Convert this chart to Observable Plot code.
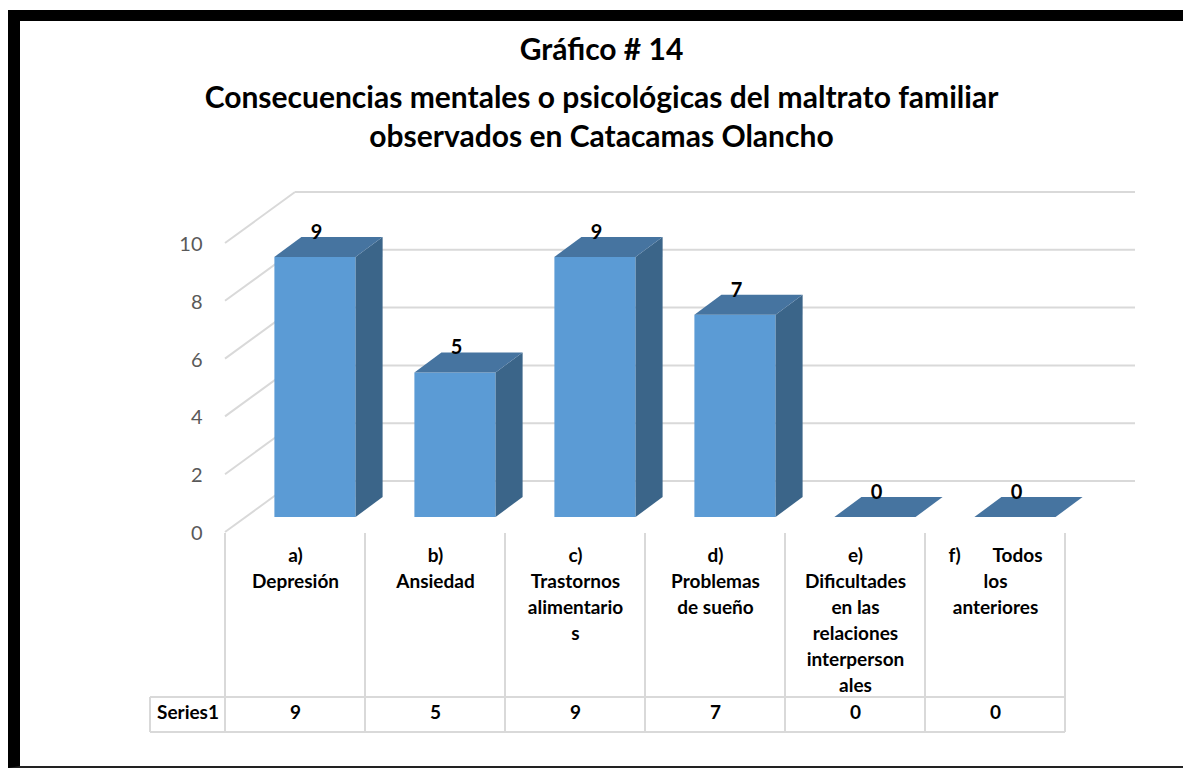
<!DOCTYPE html>
<html>
<head>
<meta charset="utf-8">
<script src="https://cdn.jsdelivr.net/npm/d3@7"></script>
<script src="https://cdn.jsdelivr.net/npm/@observablehq/plot@0.6"></script>
<style>
  html, body { margin: 0; padding: 0; background: #fff; }
  body { width: 1183px; height: 768px; overflow: hidden; position: relative; font-family: Lato, "Open Sans", sans-serif; }
  #frame { position: absolute; left: 8px; top: 10px; width: 1200px; height: 745px;
           border-left: 12px solid #000; border-top: 11px solid #000; border-bottom: 2px solid #222; }
  .tline { position: absolute; left: 20px; width: 1163px; text-align: center; font-weight: bold;
           font-size: 30px; line-height: 34px; color: #000; white-space: nowrap; }
  #chart { position: absolute; left: 0; top: 165px; }
  #chart svg text { white-space: pre; }
</style>
</head>
<body>
<div id="frame"></div>
<div class="tline" style="top:31px">Gráfico # 14</div>
<div class="tline" style="top:79px">Consecuencias mentales o psicológicas del maltrato familiar</div>
<div class="tline" style="top:118px">observados en Catacamas Olancho</div>
<div id="chart"></div>
<script>
// ---- data ----
const categories = [
  "a)\nDepresión",
  "b)\nAnsiedad",
  "c)\nTrastornos\nalimentario\ns",
  "d)\nProblemas\nde sueño",
  "e)\nDificultades\nen las\nrelaciones\ninterperson\nales",
  "f)       Todos\nlos\nanteriores"
];
const values = [9, 5, 9, 7, 0, 0];
const yTicks = [0, 2, 4, 6, 8, 10];
const seriesName = "Series1";

const data = categories.map((c, i) => ({category: c, value: values[i]}));

// ---- 3D geometry (styles) ----
const WALL = {dx: 70, dy: -51};    // depth of the floor / side wall
const FRONT = {dx: 20, dy: -15};   // offset of bar front face from the floor front edge
const DEPTH = {dx: 27, dy: -20};   // bar depth
const BAR_FRAC = 0.58;             // bar width as fraction of band
const GRID = "#d9d9d9";
const FRONT_FILL = "#5b9bd5", TOP_FILL = "#4674a0", SIDE_FILL = "#3b6589";

function bandInfo(x) {
  return typeof x.bandwidth === "function" ? x.bandwidth() : (x(categories[1]) - x(categories[0]));
}

// grid walls: side-wall diagonals and back-wall horizontal lines
function walls(index, scales) {
  const {x, y} = scales;
  const bw = bandInfo(x);
  const x0 = x(categories[0]);
  const x1 = x(categories[categories.length - 1]) + bw;
  const g = d3.create("svg:g").attr("stroke", GRID).attr("stroke-width", 2).attr("fill", "none");
  for (const t of yTicks) {
    const py = y(t);
    g.append("line").attr("x1", x0).attr("y1", py).attr("x2", x0 + WALL.dx).attr("y2", py + WALL.dy);
    g.append("line").attr("x1", x0 + WALL.dx).attr("y1", py + WALL.dy).attr("x2", x1 + WALL.dx).attr("y2", py + WALL.dy);
  }
  return g.node();
}

// data table lines
function tableLines(index, scales) {
  const {x, y} = scales;
  const bw = bandInfo(x);
  const y0 = y(0);
  const xs = categories.map(c => x(c)).concat([x(categories[categories.length - 1]) + bw]);
  const g = d3.create("svg:g").attr("stroke", GRID).attr("stroke-width", 2).attr("fill", "none");
  const rowTop = y0 + 165, rowBot = y0 + 200, leftX = xs[0] - 75;
  for (const px of xs) {
    g.append("line").attr("x1", px).attr("y1", y0 + 1).attr("x2", px).attr("y2", rowBot);
  }
  g.append("line").attr("x1", leftX).attr("y1", rowTop).attr("x2", xs[xs.length - 1]).attr("y2", rowTop);
  g.append("line").attr("x1", leftX).attr("y1", rowBot).attr("x2", xs[xs.length - 1]).attr("y2", rowBot);
  g.append("line").attr("x1", leftX).attr("y1", rowTop).attr("x2", leftX).attr("y2", rowBot);
  return g.node();
}

// 3D bars
function bars3d(index, scales) {
  const {x, y} = scales;
  const bw = bandInfo(x);
  const w = bw * BAR_FRAC;
  const g = d3.create("svg:g");
  for (const d of data) {
    const cx = x(d.category) + bw / 2 + FRONT.dx;
    const l = cx - w / 2, r = cx + w / 2;
    const yb = y(0) + FRONT.dy, yt = y(d.value) + FRONT.dy;
    if (yb - yt > 0) {
      g.append("rect").attr("x", l).attr("y", yt).attr("width", w).attr("height", yb - yt)
        .attr("fill", FRONT_FILL);
      g.append("path").attr("fill", SIDE_FILL)
        .attr("d", `M${r},${yt}L${r + DEPTH.dx},${yt + DEPTH.dy}L${r + DEPTH.dx},${yb + DEPTH.dy}L${r},${yb}Z`);
    }
    g.append("path").attr("fill", TOP_FILL)
      .attr("d", `M${l},${yt}L${l + DEPTH.dx},${yt + DEPTH.dy}L${r + DEPTH.dx},${yt + DEPTH.dy}L${r},${yt}Z`);
  }
  return g.node();
}

const chart = Plot.plot({
  width: 1183,
  height: 603,
  marginLeft: 225,
  marginRight: 118,
  marginTop: 78,
  marginBottom: 236,
  style: {fontFamily: "Lato, 'Open Sans', sans-serif", overflow: "visible", background: "transparent"},
  x: {type: "band", domain: categories, padding: 0, axis: null},
  y: {domain: [0, 10], axis: null},
  marks: [
    walls,
    tableLines,
    bars3d,
    // y tick labels
    Plot.text(yTicks, {y: d => d, text: d => String(d), frameAnchor: "left", textAnchor: "end",
      dx: -23, dy: 1, fill: "#595959", fontSize: 20}),
    // value labels above bars
    Plot.text(data, {x: "category", y: "value", text: d => String(d.value), dx: 21, dy: -40,
      fontSize: 20, fontWeight: "bold", fill: "#000"}),
    // category labels (table header)
    Plot.text(data, {x: "category", text: "category", frameAnchor: "bottom", lineAnchor: "top",
      dy: 11, lineHeight: 26 / 19, fontSize: 19, fontWeight: "bold", fill: "#000"}),
    // series row
    Plot.text([seriesName], {text: d => d, frameAnchor: "bottom-left", dx: -37.5, dy: 186,
      textAnchor: "middle", fontSize: 19, fontWeight: "bold", fill: "#000"}),
    Plot.text(data, {x: "category", text: d => String(d.value), frameAnchor: "bottom", dy: 186,
      fontSize: 19, fontWeight: "bold", fill: "#000"})
  ]
});
document.getElementById("chart").appendChild(chart);
</script>
</body>
</html>
